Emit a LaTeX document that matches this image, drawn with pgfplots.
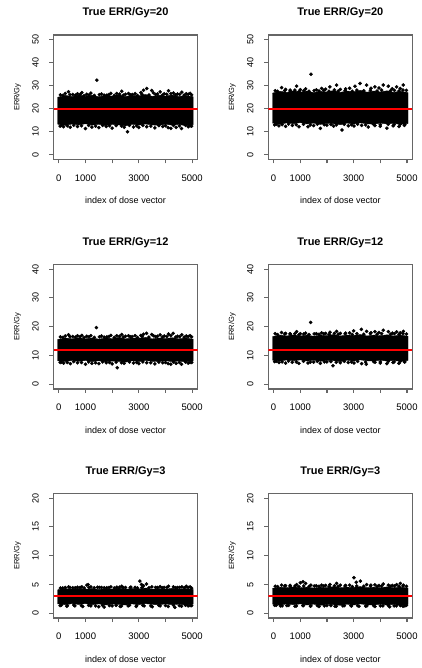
\documentclass[border=0pt]{standalone}
\usepackage{pgfplots}
\pgfplotsset{compat=1.18}
\usepackage{fontspec}
\setmainfont{Liberation Sans}
\pgfplotsset{rplot/.style={
  scale only axis, width=144pt, height=124.5pt, anchor=south west,
  xmin=-199, xmax=5200,
  xtick={0,1000,2000,3000,4000,5000}, xticklabels={0,1000,,3000,,5000},
  tick pos=left, tick align=outside, major tick length=4pt,
  axis line style={draw=black!60, line width=1.1pt},
  every tick/.style={draw=black!60, line width=1.1pt},
  /pgf/number format/assume math mode=true,
  yticklabel style={xshift=-14pt, rotate=90, anchor=center, font=\fontsize{9}{10}\selectfont},
  xticklabel style={anchor=center, yshift=-14.5pt, font=\fontsize{9.5}{11}\selectfont},
  xlabel={index of dose vector}, ylabel={ERR/Gy},
  x label style={at={(axis description cs:0.5,0)}, anchor=center, yshift=-41pt, font=\fontsize{9}{10}\selectfont},
  y label style={at={(axis description cs:0,0.5)}, anchor=center, yshift=36pt, font=\fontsize{7.5}{8}\selectfont},
  title style={at={(axis description cs:0.5,1)}, anchor=center, yshift=16pt, font=\bfseries\fontsize{11}{13}\selectfont},
}, band/.style={fill=black, draw=black, line width=0.4pt},
dots/.style={only marks, mark=*, mark size=1.6pt, black}}
\begin{document}
\begin{tikzpicture}
\useasboundingbox (0,0) rectangle (422pt,668pt);
% ---------- panel 1 ----------
\begin{axis}[rplot, at={(53.5pt,508.5pt)}, ymin=-2, ymax=52, ytick={0,10,20,30,40,50}, title={True ERR/Gy=20}]
\addplot[band] coordinates {(-40,25.0) (250,25.8) (500,25.3) (750,26.0) (1000,25.4) (1250,25.9) (1500,25.2) (1750,25.8) (2000,25.5) (2250,26.1) (2500,25.3) (2750,25.9) (3000,25.6) (3250,26.2) (3500,25.4) (3750,25.9) (4000,25.5) (4250,26.0) (4500,25.3) (4750,25.8) (5040,25.2)
 (5040,13.1) (4750,12.7) (4500,13.2) (4250,12.9) (4000,13.3) (3750,12.8) (3500,13.0) (3250,13.4) (3000,12.9) (2750,13.3) (2500,12.6) (2250,13.0) (2000,13.2) (1750,12.7) (1500,13.3) (1250,12.9) (1000,13.5) (750,13.0) (500,13.4) (250,12.8) (-40,13.3)} -- cycle;
\addplot[dots] coordinates {(60,26.0) (240,26.6) (364,27.4) (520,26.2) (700,26.5) (862,27.0) (1050,26.3) (1200,26.8) (1425,32.4) (1600,26.4) (1800,25.9) (1950,26.7) (2174,26.6) (2361,27.6) (2500,26.3) (2612,26.6) (2750,26.2) (2862,26.6) (3074,27.0) (3174,28.0) (3299,28.8) (3486,27.9) (3549,26.9) (3700,26.4) (3799,27.3) (3950,26.5) (4111,27.8) (4200,26.6) (4299,26.8) (4450,26.4) (4611,27.2) (4780,26.5) (4923,26.7) (4980,26.0)
 (150,25.8) (420,26.1) (620,25.9) (800,26.3) (950,25.7) (1130,26.0) (1330,25.8) (1520,26.1) (1700,25.9) (1880,26.2) (2080,25.8) (2280,26.4) (2420,25.9) (2680,26.1) (2950,25.8) (3120,26.3) (3380,26.0) (3630,26.2) (3880,25.9) (4050,26.3) (4380,26.0) (4530,26.2) (4700,25.9) (4850,26.3)
 (50,12.5) (180,12.2) (430,12.0) (700,12.3) (1000,11.4) (1240,12.0) (1500,11.8) (1780,12.3) (2000,11.6) (2575,10.0) (2450,12.0) (2800,12.1) (3000,11.9) (3300,12.2) (3600,11.7) (3900,12.3) (4100,11.8) (4200,11.5) (4400,11.9) (4600,11.4) (4850,12.2) (4980,12.5)
 (100,12.8) (320,12.6) (560,12.9) (850,12.6) (1120,12.8) (1380,12.5) (1640,12.8) (1900,12.6) (2150,12.7) (2350,12.5) (2650,12.8) (2920,12.6) (3150,12.8) (3450,12.5) (3750,12.7) (4000,12.6) (4300,12.8) (4520,12.6) (4750,12.8) (4920,12.6)};
\addplot[red, line width=2pt] coordinates {(-199,20) (5200,20)};
\end{axis}
% ---------- panel 2 ----------
\begin{axis}[rplot, at={(268.3pt,508.5pt)}, ymin=-2, ymax=52, ytick={0,10,20,30,40,50}, title={True ERR/Gy=20}]
\addplot[band] coordinates {(-40,26.8) (250,27.6) (500,27.1) (750,27.8) (1000,27.2) (1250,27.7) (1500,27.0) (1750,27.6) (2000,27.3) (2250,27.9) (2500,27.1) (2750,27.7) (3000,27.4) (3250,28.0) (3500,27.2) (3750,27.7) (4000,27.3) (4250,27.8) (4500,27.1) (4750,27.6) (5040,27.0)
 (5040,13.6) (4750,13.2) (4500,13.7) (4250,13.4) (4000,13.8) (3750,13.3) (3500,13.5) (3250,13.9) (3000,13.4) (2750,13.8) (2500,13.1) (2250,13.5) (2000,13.7) (1750,13.2) (1500,13.8) (1250,13.4) (1000,14.0) (750,13.5) (500,13.9) (250,13.3) (-40,13.8)} -- cycle;
\addplot[dots] coordinates {(60,27.8) (300,29.2) (450,28.4) (620,28.1) (862,29.8) (1000,28.3) (1200,28.6) (1400,35.0) (1600,28.2) (1800,28.8) (1950,28.5) (2112,29.5) (2362,30.3) (2500,28.4) (2700,28.6) (2850,28.9) (3050,29.8) (3240,31.0) (3487,30.3) (3650,28.9) (3800,29.5) (3950,29.0) (4113,30.3) (4300,29.8) (4450,28.7) (4612,29.5) (4750,28.8) (4863,30.3) (4980,28.0)
 (150,27.6) (420,27.9) (620,27.7) (800,28.1) (950,27.5) (1130,27.8) (1330,27.6) (1520,27.9) (1700,27.7) (1880,28.0) (2080,27.6) (2280,28.2) (2420,27.7) (2680,27.9) (2950,27.6) (3120,28.1) (3380,27.8) (3630,28.0) (3880,27.7) (4050,28.1) (4380,27.8) (4530,28.0) (4700,27.7) (4850,28.1)
 (40,13.0) (200,12.6) (450,12.4) (700,12.8) (950,12.2) (1290,12.2) (1500,12.7) (1750,11.5) (2000,12.9) (2250,12.5) (2564,10.8) (2800,12.6) (3015,12.5) (3300,12.8) (3550,12.1) (3800,12.7) (4000,12.4) (4250,11.6) (4480,12.6) (4700,12.3) (4900,12.8)
 (100,13.3) (320,13.1) (560,13.4) (850,13.1) (1120,13.3) (1380,13.0) (1640,13.3) (1900,13.1) (2150,13.2) (2350,13.0) (2650,13.3) (2920,13.1) (3150,13.3) (3450,13.0) (3750,13.2) (4000,13.1) (4300,13.3) (4520,13.1) (4750,13.3) (4920,13.1)};
\addplot[red, line width=2pt] coordinates {(-199,20) (5200,20)};
\end{axis}
% ---------- panel 3 ----------
\begin{axis}[rplot, at={(53.5pt,279pt)}, ymin=-1.6, ymax=41.6, ytick={0,10,20,30,40}, title={True ERR/Gy=12}]
\addplot[band] coordinates {(-40,15.6) (250,16.1) (500,15.8) (750,16.2) (1000,15.8) (1250,16.1) (1500,15.7) (1750,16.1) (2000,15.9) (2250,16.3) (2500,15.8) (2750,16.1) (3000,16.0) (3250,16.3) (3500,15.8) (3750,16.1) (4000,15.9) (4250,16.2) (4500,15.8) (4750,16.1) (5040,15.7)
 (5040,8.1) (4750,7.8) (4500,8.1) (4250,7.9) (4000,8.2) (3750,7.9) (3500,8.0) (3250,8.3) (3000,7.9) (2750,8.2) (2500,7.7) (2250,8.0) (2000,8.1) (1750,7.8) (1500,8.2) (1250,7.9) (1000,8.3) (750,8.0) (500,8.3) (250,7.9) (-40,8.2)} -- cycle;
\addplot[dots] coordinates {(60,16.5) (240,16.8) (364,17.2) (520,16.6) (700,16.9) (862,17.0) (1050,16.7) (1200,16.9) (1412,19.7) (1600,16.8) (1800,16.5) (1950,17.0) (2174,16.9) (2361,17.3) (2500,16.7) (2612,16.9) (2750,16.6) (2862,16.9) (3074,17.0) (3174,17.4) (3288,17.7) (3486,17.3) (3549,16.9) (3700,16.7) (3799,17.2) (3950,16.8) (4111,17.5) (4200,16.9) (4288,17.7) (4450,16.7) (4611,17.2) (4780,16.8) (4923,16.9) (4980,16.5)
 (150,16.3) (420,16.5) (620,16.4) (800,16.6) (950,16.2) (1130,16.5) (1330,16.3) (1520,16.5) (1700,16.4) (1880,16.6) (2080,16.3) (2280,16.7) (2420,16.4) (2680,16.5) (2950,16.3) (3120,16.6) (3380,16.4) (3630,16.6) (3880,16.4) (4050,16.6) (4380,16.4) (4530,16.6) (4700,16.4) (4850,16.6)
 (50,7.6) (180,7.4) (430,7.2) (700,7.5) (1000,7.0) (1240,7.3) (1500,7.2) (1780,7.5) (2000,7.1) (2190,5.8) (2450,7.3) (2800,7.4) (3000,7.2) (3300,7.5) (3600,7.1) (3900,7.5) (4100,7.2) (4200,7.0) (4400,7.3) (4600,7.0) (4850,7.4) (4980,7.6)
 (100,7.8) (320,7.6) (560,7.9) (850,7.6) (1120,7.8) (1380,7.5) (1640,7.8) (1900,7.6) (2150,7.7) (2350,7.5) (2650,7.8) (2920,7.6) (3150,7.8) (3450,7.5) (3750,7.7) (4000,7.6) (4300,7.8) (4520,7.6) (4750,7.8) (4920,7.6)};
\addplot[red, line width=2pt] coordinates {(-199,12) (5200,12)};
\end{axis}
% ---------- panel 4 ----------
\begin{axis}[rplot, at={(268.3pt,279pt)}, ymin=-1.6, ymax=41.6, ytick={0,10,20,30,40}, title={True ERR/Gy=12}]
\addplot[band] coordinates {(-40,16.6) (250,17.1) (500,16.8) (750,17.2) (1000,16.8) (1250,17.1) (1500,16.7) (1750,17.1) (2000,16.9) (2250,17.3) (2500,16.8) (2750,17.1) (3000,17.0) (3250,17.3) (3500,16.8) (3750,17.1) (4000,16.9) (4250,17.2) (4500,16.8) (4750,17.1) (5040,16.7)
 (5040,8.3) (4750,8.0) (4500,8.3) (4250,8.1) (4000,8.4) (3750,8.1) (3500,8.2) (3250,8.5) (3000,8.1) (2750,8.4) (2500,7.9) (2250,8.2) (2000,8.3) (1750,8.0) (1500,8.4) (1250,8.1) (1000,8.5) (750,8.2) (500,8.5) (250,8.1) (-40,8.4)} -- cycle;
\addplot[dots] coordinates {(60,17.6) (300,18.0) (450,17.7) (620,17.6) (862,18.3) (1000,17.6) (1200,17.8) (1390,21.5) (1600,17.6) (1800,17.9) (1950,17.7) (2112,18.1) (2362,18.4) (2500,17.7) (2700,17.8) (2850,17.9) (3000,18.6) (3290,19.1) (3487,18.4) (3650,17.9) (3800,18.3) (3950,18.0) (4113,18.8) (4300,18.3) (4450,17.8) (4612,18.2) (4750,17.9) (4863,18.4) (4980,17.5)
 (150,17.3) (420,17.5) (620,17.4) (800,17.6) (950,17.2) (1130,17.5) (1330,17.3) (1520,17.5) (1700,17.4) (1880,17.6) (2080,17.3) (2280,17.7) (2420,17.4) (2680,17.5) (2950,17.3) (3120,17.6) (3380,17.4) (3630,17.6) (3880,17.4) (4050,17.6) (4380,17.4) (4530,17.6) (4700,17.4) (4850,17.6)
 (40,7.9) (200,7.6) (450,7.4) (700,7.7) (950,7.3) (1290,7.4) (1500,7.7) (1750,7.3) (2000,7.8) (2226,6.5) (2500,7.5) (2800,7.6) (3015,7.4) (3300,7.2) (3476,7.0) (3800,7.7) (4000,7.4) (4250,7.2) (4480,7.6) (4700,7.3) (4900,7.8)
 (100,8.0) (320,7.8) (560,8.1) (850,7.8) (1120,8.0) (1380,7.7) (1640,8.0) (1900,7.8) (2150,7.9) (2350,7.7) (2650,8.0) (2920,7.8) (3150,8.0) (3450,7.7) (3750,7.9) (4000,7.8) (4300,8.0) (4520,7.8) (4750,8.0) (4920,7.8)};
\addplot[red, line width=2pt] coordinates {(-199,12) (5200,12)};
\end{axis}
% ---------- panel 5 ----------
\begin{axis}[rplot, at={(53.5pt,50pt)}, ymin=-0.8, ymax=20.8, ytick={0,5,10,15,20}, title={True ERR/Gy=3}]
\addplot[band] coordinates {(-40,4.1) (250,4.3) (500,4.2) (750,4.35) (1000,4.2) (1250,4.3) (1500,4.15) (1750,4.3) (2000,4.2) (2250,4.4) (2500,4.2) (2750,4.3) (3000,4.25) (3250,4.4) (3500,4.2) (3750,4.3) (4000,4.2) (4250,4.35) (4500,4.2) (4750,4.3) (5040,4.15)
 (5040,1.6) (4750,1.45) (4500,1.6) (4250,1.5) (4000,1.65) (3750,1.5) (3500,1.55) (3250,1.7) (3000,1.5) (2750,1.65) (2500,1.45) (2250,1.55) (2000,1.6) (1750,1.45) (1500,1.65) (1250,1.5) (1000,1.7) (750,1.55) (500,1.7) (250,1.5) (-40,1.65)} -- cycle;
\addplot[dots] coordinates {(60,4.4) (240,4.5) (364,4.6) (520,4.45) (700,4.55) (862,4.6) (1050,4.9) (1100,5.0) (1200,4.6) (1450,4.55) (1600,4.5) (1800,4.45) (1950,4.6) (2174,4.55) (2361,4.7) (2500,4.5) (2700,4.55) (2862,4.5) (3036,5.6) (3100,5.0) (3174,4.8) (3288,5.1) (3486,4.6) (3700,4.5) (3799,4.65) (3950,4.5) (4111,4.7) (4299,4.6) (4450,4.5) (4611,4.6) (4780,4.7) (4923,4.6) (4980,4.4)
 (150,4.4) (420,4.5) (620,4.45) (800,4.5) (950,4.4) (1130,4.5) (1330,4.45) (1520,4.5) (1700,4.45) (1880,4.5) (2080,4.4) (2280,4.55) (2420,4.45) (2680,4.5) (2950,4.4) (3120,4.5) (3380,4.45) (3630,4.5) (3880,4.45) (4050,4.5) (4380,4.45) (4530,4.5) (4700,4.45) (4850,4.5)
 (50,1.35) (300,1.25) (600,1.3) (900,1.2) (1200,1.3) (1500,1.15) (1700,1.1) (2000,1.3) (2300,1.2) (2600,1.3) (2900,1.2) (3200,1.3) (3500,1.15) (3800,1.3) (4100,1.2) (4350,1.05) (4600,1.25) (4850,1.3) (4980,1.35)
 (100,1.45) (320,1.35) (560,1.45) (850,1.35) (1120,1.4) (1380,1.3) (1640,1.4) (1900,1.35) (2150,1.4) (2350,1.3) (2650,1.4) (2920,1.35) (3150,1.4) (3450,1.3) (3750,1.4) (4000,1.35) (4300,1.4) (4520,1.35) (4750,1.4) (4920,1.35)};
\addplot[red, line width=2pt] coordinates {(-199,3) (5200,3)};
\end{axis}
% ---------- panel 6 ----------
\begin{axis}[rplot, at={(268.3pt,50pt)}, ymin=-0.8, ymax=20.8, ytick={0,5,10,15,20}, title={True ERR/Gy=3}]
\addplot[band] coordinates {(-40,4.35) (250,4.55) (500,4.45) (750,4.6) (1000,4.45) (1250,4.55) (1500,4.4) (1750,4.55) (2000,4.45) (2250,4.65) (2500,4.45) (2750,4.55) (3000,4.5) (3250,4.65) (3500,4.45) (3750,4.55) (4000,4.45) (4250,4.6) (4500,4.45) (4750,4.55) (5040,4.4)
 (5040,1.55) (4750,1.4) (4500,1.55) (4250,1.45) (4000,1.6) (3750,1.45) (3500,1.5) (3250,1.65) (3000,1.45) (2750,1.6) (2500,1.4) (2250,1.5) (2000,1.55) (1750,1.4) (1500,1.6) (1250,1.45) (1000,1.65) (750,1.5) (500,1.65) (250,1.45) (-40,1.6)} -- cycle;
\addplot[dots] coordinates {(60,4.7) (300,4.9) (450,4.8) (620,4.85) (862,5.0) (1000,5.3) (1100,5.5) (1200,5.2) (1400,4.9) (1600,4.8) (1800,4.9) (1950,4.85) (2112,5.0) (2362,5.2) (2500,4.9) (2700,4.85) (2850,4.9) (3013,6.2) (3100,5.4) (3250,5.6) (3487,5.0) (3650,4.9) (3800,4.95) (3950,4.85) (4113,5.1) (4300,4.9) (4450,4.85) (4612,5.0) (4750,5.2) (4863,4.9) (4980,4.7)
 (150,4.65) (420,4.75) (620,4.7) (800,4.75) (950,4.65) (1130,4.75) (1330,4.7) (1520,4.75) (1700,4.7) (1880,4.75) (2080,4.65) (2280,4.8) (2420,4.7) (2680,4.75) (2950,4.65) (3120,4.75) (3380,4.7) (3630,4.75) (3880,4.7) (4050,4.75) (4380,4.7) (4530,4.75) (4700,4.7) (4850,4.75)
 (40,1.4) (250,1.3) (500,1.35) (800,1.25) (1100,1.35) (1400,1.3) (1700,1.2) (2000,1.35) (2300,1.25) (2600,1.3) (2900,1.35) (3200,1.25) (3500,1.3) (3800,1.2) (4100,1.3) (4350,1.15) (4600,1.3) (4850,1.25) (4980,1.4)
 (100,1.4) (320,1.3) (560,1.4) (850,1.3) (1120,1.35) (1380,1.25) (1640,1.35) (1900,1.3) (2150,1.35) (2350,1.25) (2650,1.35) (2920,1.3) (3150,1.35) (3450,1.25) (3750,1.35) (4000,1.3) (4300,1.35) (4520,1.3) (4750,1.35) (4920,1.3)};
\addplot[red, line width=2pt] coordinates {(-199,3) (5200,3)};
\end{axis}
\end{tikzpicture}
\end{document}
